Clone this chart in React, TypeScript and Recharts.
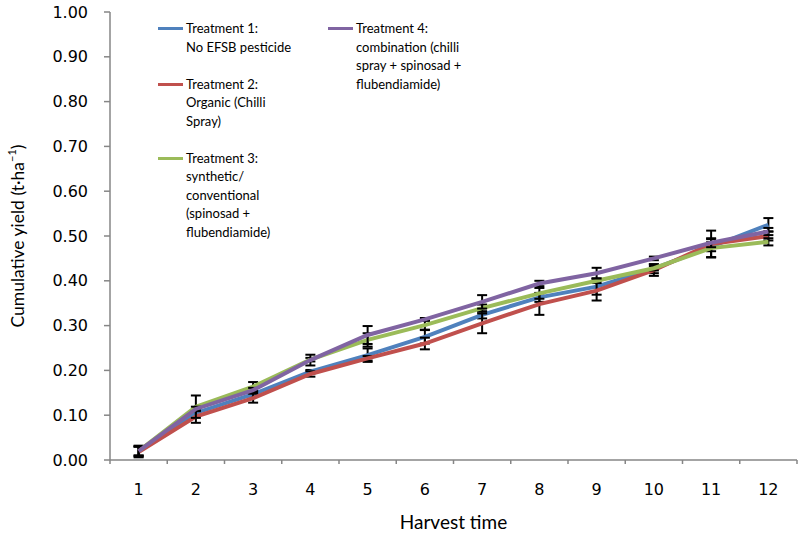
import React from 'react';
import { LineChart, Line, XAxis, YAxis, ErrorBar, Label } from 'recharts';

const harvest = [1, 2, 3, 4, 5, 6, 7, 8, 9, 10, 11, 12];
const bandEdges = [0.5, 1.5, 2.5, 3.5, 4.5, 5.5, 6.5, 7.5, 8.5, 9.5, 10.5, 11.5, 12.5];
const yTicks = [0, 0.1, 0.2, 0.3, 0.4, 0.5, 0.6, 0.7, 0.8, 0.9, 1.0];

// means
const t1 = [0.02, 0.105, 0.147, 0.197, 0.234, 0.275, 0.324, 0.363, 0.387, 0.427, 0.476, 0.525];
const t2 = [0.018, 0.097, 0.138, 0.192, 0.227, 0.26, 0.305, 0.348, 0.378, 0.424, 0.482, 0.5];
const t3 = [0.02, 0.119, 0.164, 0.224, 0.268, 0.301, 0.339, 0.372, 0.4, 0.428, 0.473, 0.487];
const t4 = [0.02, 0.114, 0.156, 0.223, 0.279, 0.314, 0.353, 0.394, 0.417, 0.45, 0.485, 0.51];

// error bar half-lengths
const e1 = [0.012, 0.005, 0.005, 0.004, 0.015, 0.015, 0.008, 0.01, 0.018, 0.01, 0.01, 0.015];
const e2 = [0.012, 0.014, 0.01, 0.006, 0.005, 0.013, 0.022, 0.024, 0.022, 0.013, 0.03, 0.01];
const e3 = [0.01, 0.025, 0.01, 0.004, 0.015, 0.01, 0.008, 0.012, 0.005, 0.005, 0.02, 0.008];
const e4 = [0.01, 0.005, 0.005, 0.012, 0.02, 0.003, 0.015, 0.006, 0.012, 0.004, 0.01, 0.008];

const seriesKeys = ['t1', 't2', 't3', 't4'];
const seriesColors = ['#4F81BD', '#C0504D', '#9BBB59', '#8064A2'];
const legendText = [
  ['Treatment 1:', 'No EFSB pesticide'],
  ['Treatment 2:', 'Organic (Chilli', 'Spray)'],
  ['Treatment 3:', 'synthetic/', 'conventional', '(spinosad +', 'flubendiamide)'],
  ['Treatment 4:', 'combination (chilli', 'spray + spinosad +', 'flubendiamide)'],
];

const data = harvest.map((h, i) => ({
  h,
  t1: t1[i], t2: t2[i], t3: t3[i], t4: t4[i],
  e1: e1[i], e2: e2[i], e3: e3[i], e4: e4[i],
}));

const textFont = 'Lato, "Open Sans", sans-serif';
const tickFont = '"DejaVu Sans", Verdana, sans-serif';
const axisGrey = '#868686';

const LegendEntry = ({ idx }: { idx: number }) => (
  <div style={{ display: 'flex', alignItems: 'flex-start', marginBottom: 18.5 }}>
    <div style={{ width: 25, height: 3, background: seriesColors[idx], marginTop: 8, marginRight: 3, flexShrink: 0 }} />
    <div>
      {legendText[idx].map((t, k) => (
        <div key={k} style={{ lineHeight: '18.5px', whiteSpace: 'nowrap' }}>{t}</div>
      ))}
    </div>
  </div>
);

// legend drawn over the plot, like the original in-chart legend box
const LegendBox = () => (
  <div style={{ position: 'absolute', left: 158, top: 19, display: 'flex', fontFamily: textFont, fontSize: 13, color: '#000' }}>
    <div style={{ width: 170 }}>
      <LegendEntry idx={0} />
      <LegendEntry idx={1} />
      <LegendEntry idx={2} />
    </div>
    <div>
      <LegendEntry idx={3} />
    </div>
  </div>
);

const YTitle = (props: any) => {
  const vb = props.viewBox;
  const cy = vb.y + vb.height / 2;
  return (
    <text
      x={17}
      y={cy}
      transform={`rotate(-90, 17, ${cy})`}
      textAnchor="middle"
      dominantBaseline="central"
      fontFamily={textFont}
      fontSize={17.5}
      fill="#000"
    >
      Cumulative yield (t·ha<tspan dy={-6} fontSize={11}>−1</tspan><tspan dy={6}>)</tspan>
    </text>
  );
};

const NoLabel = () => <g />;

export default function App() {
  return (
    <div style={{ position: 'absolute', left: 0, top: 0, width: 799, height: 534 }}>
      <LineChart width={799} height={534} data={data} margin={{ top: 12, right: 2, bottom: 0, left: 0 }}>
        <XAxis
          xAxisId="edges"
          dataKey="h"
          type="number"
          domain={[0.5, 12.5]}
          ticks={bandEdges}
          interval={0}
          height={4}
          tick={<NoLabel />}
          tickSize={4}
          stroke={axisGrey}
          strokeWidth={1.5}
          axisLine={{ stroke: axisGrey, strokeWidth: 1.5 }}
          tickLine={{ stroke: axisGrey, strokeWidth: 1.5 }}
        />
        <XAxis
          xAxisId="labels"
          dataKey="h"
          type="number"
          domain={[0.5, 12.5]}
          ticks={harvest}
          interval={0}
          height={70}
          axisLine={false}
          tickLine={false}
          tickSize={0}
          tickMargin={20}
          tick={{ fontFamily: tickFont, fontSize: 16, fill: '#000' }}
        >
          <Label value="Harvest time" position="insideBottom" offset={5} style={{ fontFamily: textFont, fontSize: 19, fill: '#000' }} />
        </XAxis>
        <YAxis
          domain={[0, 1]}
          ticks={yTicks}
          width={110}
          interval={0}
          tickFormatter={(v: number) => v.toFixed(2)}
          tickSize={6}
          tickMargin={16}
          stroke={axisGrey}
          strokeWidth={1.5}
          tick={{ fontFamily: tickFont, fontSize: 16, fill: '#000' }}
          label={<YTitle />}
        />
        {/* invisible carrier so the tick-mark axis gets a domain and renders */}
        <Line xAxisId="edges" dataKey="t1" stroke="none" dot={false} activeDot={false} legendType="none" isAnimationActive={false} />
        {seriesKeys.map((k, i) => (
          <Line
            key={k}
            xAxisId="labels"
            dataKey={k}
            stroke={seriesColors[i]}
            strokeWidth={4}
            dot={false}
            type="linear"
            isAnimationActive={false}
          >
            <ErrorBar dataKey={`e${i + 1}`} direction="y" width={5} strokeWidth={2} stroke="#000" isAnimationActive={false} />
          </Line>
        ))}
      </LineChart>
      <LegendBox />
    </div>
  );
}
